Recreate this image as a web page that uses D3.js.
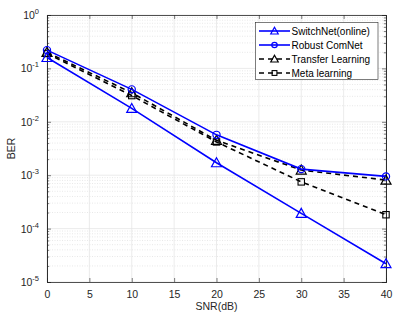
<!DOCTYPE html>
<html>
<head>
<meta charset="utf-8">
<script src="https://cdn.jsdelivr.net/npm/d3@7"></script>
<style>
  body { margin: 0; background: #fff; }
  text { font-family: "Liberation Sans", Arial, sans-serif; }
</style>
</head>
<body>
<svg width="415" height="323"></svg>
<script>
const snr = [0, 10, 20, 30, 40];
const switchNet = [0.16, 0.0178, 0.00171, 1.93e-4, 2.2e-5];
const robustComNet = [0.22, 0.0405, 0.0057, 0.0013, 9.5e-4];
const transferLearning = [0.2, 0.035, 0.0045, 0.00125, 8.1e-4];
const metaLearning = [0.19, 0.031, 0.0042, 7.5e-4, 1.82e-4];
const xTicks = [0, 5, 10, 15, 20, 25, 30, 35, 40];
const yTicks = [-5, -4, -3, -2, -1, 0];

const series = [
  { name: "SwitchNet(online)", values: switchNet, color: "#0000ff", dash: null, marker: "triangle" },
  { name: "Robust ComNet", values: robustComNet, color: "#0000ff", dash: null, marker: "circle" },
  { name: "Transfer Learning", values: transferLearning, color: "#000", dash: "5,4", marker: "triangle" },
  { name: "Meta learning", values: metaLearning, color: "#000", dash: "5,4", marker: "square" }
];

const margin = { left: 47, right: 29, top: 15, bottom: 41 };
const width = 415, height = 323;
const svg = d3.select("svg");

const x = d3.scaleLinear().domain([0, 40]).range([margin.left, width - margin.right]);
const y = d3.scaleLog().domain([1e-5, 1]).range([height - margin.bottom, margin.top]);

// grid
const grid = svg.append("g");
for (let e = -5; e < 0; e++) {
  for (let m = 2; m <= 9; m++) {
    grid.append("line")
      .attr("x1", x(0)).attr("x2", x(40))
      .attr("y1", y(m * Math.pow(10, e))).attr("y2", y(m * Math.pow(10, e)))
      .attr("stroke", "#d8d8d8").attr("stroke-width", 0.6).attr("stroke-dasharray", "1,1.5");
  }
}
xTicks.forEach(t => {
  grid.append("line").attr("x1", x(t)).attr("x2", x(t))
    .attr("y1", y(1e-5)).attr("y2", y(1))
    .attr("stroke", "#e3e3e3").attr("stroke-width", 0.7);
});
yTicks.forEach(t => {
  grid.append("line").attr("x1", x(0)).attr("x2", x(40))
    .attr("y1", y(Math.pow(10, t))).attr("y2", y(Math.pow(10, t)))
    .attr("stroke", "#e3e3e3").attr("stroke-width", 0.7);
});

// axes
const axisColor = "#262626";
const xAxis = svg.append("g").attr("transform", `translate(0,${y(1e-5)})`)
  .call(d3.axisBottom(x).tickValues(xTicks).tickSize(-4).tickPadding(9));
svg.append("g").attr("transform", `translate(0,${y(1)})`)
  .call(d3.axisTop(x).tickValues(xTicks).tickSize(-4).tickFormat(""));
svg.append("g").attr("transform", `translate(${x(0)},0)`)
  .call(d3.axisLeft(y).tickValues(yTicks.map(t => Math.pow(10, t))).tickSize(-4).tickFormat(""));
svg.append("g").attr("transform", `translate(${x(40)},0)`)
  .call(d3.axisRight(y).tickValues(yTicks.map(t => Math.pow(10, t))).tickSize(-4).tickFormat(""));

const minorVals = [];
for (let e = -5; e < 0; e++) for (let m = 2; m <= 9; m++) minorVals.push(m * Math.pow(10, e));
svg.append("g").attr("transform", `translate(${x(0)},0)`)
  .call(d3.axisLeft(y).tickValues(minorVals).tickSize(-2.2).tickFormat(""));
svg.append("g").attr("transform", `translate(${x(40)},0)`)
  .call(d3.axisRight(y).tickValues(minorVals).tickSize(-2.2).tickFormat(""));

svg.selectAll(".domain").attr("stroke", axisColor).attr("stroke-width", 0.8);
svg.selectAll(".tick line").attr("stroke", axisColor).attr("stroke-width", 0.6);
xAxis.selectAll("text").attr("font-size", 10.5).attr("fill", axisColor)
  .attr("font-family", "Liberation Sans, Arial, sans-serif");

// y tick labels with superscripts
yTicks.forEach(t => {
  const txt = svg.append("text")
    .attr("x", x(0) - 8).attr("y", y(Math.pow(10, t)) + 4)
    .attr("text-anchor", "end").attr("font-size", 10.5).attr("fill", axisColor);
  txt.append("tspan").text("10");
  txt.append("tspan").attr("dy", -5).attr("font-size", 7.5).text(String(t));
});

// axis titles
svg.append("text").attr("x", x(20)).attr("y", 310)
  .attr("text-anchor", "middle").attr("font-size", 10.5).attr("fill", axisColor).text("SNR(dB)");
svg.append("text").attr("transform", `translate(15,${y(Math.pow(10, -2.5))}) rotate(-90)`)
  .attr("text-anchor", "middle").attr("font-size", 10.5).attr("fill", axisColor).text("BER");

// lines and markers
const line = d3.line().x((d, i) => x(snr[i])).y(d => y(d));

function drawMarker(g, type, cx, cy, color, k) {
  if (type === "triangle") {
    g.append("path").attr("d", `M${cx},${cy - 5 * k}L${cx + 5 * k},${cy + 4 * k}L${cx - 5 * k},${cy + 4 * k}Z`)
      .attr("fill", "none").attr("stroke", color).attr("stroke-width", 1.2);
  } else if (type === "circle") {
    g.append("circle").attr("cx", cx).attr("cy", cy).attr("r", 3.6 * k)
      .attr("fill", "none").attr("stroke", color).attr("stroke-width", 1.2);
  } else {
    g.append("rect").attr("x", cx - 3.2 * k).attr("y", cy - 3.2 * k).attr("width", 6.4 * k).attr("height", 6.4 * k)
      .attr("fill", "none").attr("stroke", color).attr("stroke-width", 1.1);
  }
}

series.slice().reverse().forEach(s => {
  const g = svg.append("g");
  g.append("path").datum(s.values).attr("d", line)
    .attr("fill", "none").attr("stroke", s.color).attr("stroke-width", 1.6)
    .attr("stroke-dasharray", s.dash);
  s.values.forEach((v, i) => drawMarker(g, s.marker, x(snr[i]), y(v), s.color, 1));
});

// legend
const lg = svg.append("g");
lg.append("rect").attr("x", 255.5).attr("y", 22.5).attr("width", 122.5).attr("height", 57)
  .attr("fill", "#fff").attr("stroke", axisColor).attr("stroke-width", 0.6);
series.forEach((s, i) => {
  const ly = 31 + i * 14;
  lg.append("line").attr("x1", 259).attr("x2", 290).attr("y1", ly).attr("y2", ly)
    .attr("stroke", s.color).attr("stroke-width", 1.6).attr("stroke-dasharray", s.dash);
  drawMarker(lg, s.marker, 274.5, ly, s.color, 0.75);
  lg.append("text").attr("x", 291.5).attr("y", ly + 3.5).attr("font-size", 10).attr("fill", "#000").text(s.name);
});
</script>
</body>
</html>
